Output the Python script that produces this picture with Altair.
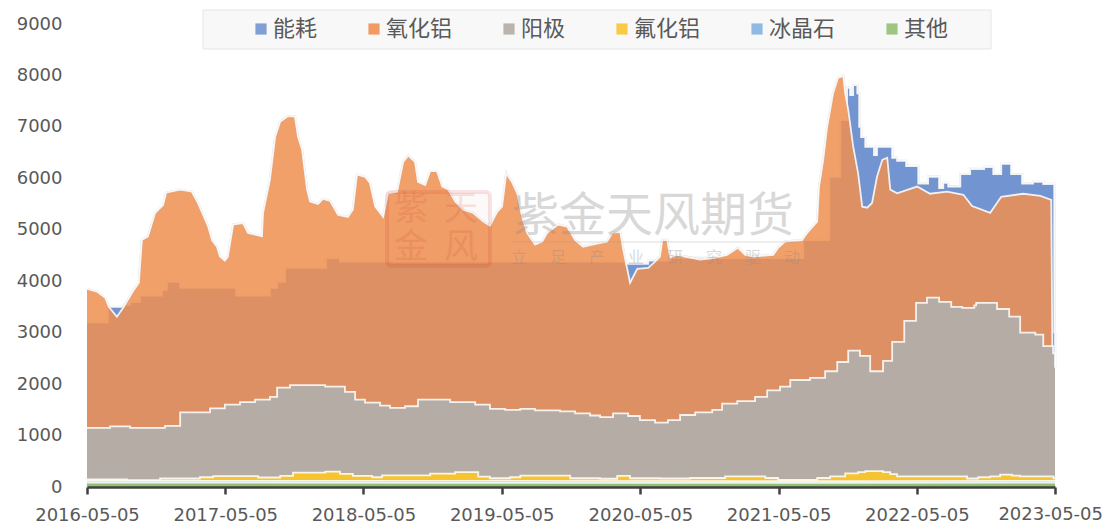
import altair as alt
import pandas as pd

START = pd.Timestamp("2016-05-05")

# Each series: days since 2016-05-05 and cumulative top value
energy_days = [0,55,98,114,140,198,211,246,394,483,502,523,631,668,1421,1482,1540,1822,1891,1960,1989,2007,2015,2023,2034,2039,2044,2055,2078,2086,2126,2139,2163,2195,2221,2250,2261,2274,2306,2332,2369,2393,2414,2440,2469,2498,2525,2554,2556]
energy_vals = [3200,3500,3540,3600,3720,3830,3990,3870,3720,3870,3990,4260,4450,4380,4340,4400,4450,4450,4800,6030,7130,7760,7620,7810,7650,7000,6800,6610,6450,6610,6400,6340,6240,5900,6030,5810,5910,5840,6080,6180,6220,6080,6280,6080,5900,5930,5890,3000,2320]

alumina_days = [0,26,48,58,79,95,121,137,145,161,180,201,209,246,277,293,320,330,343,351,364,372,386,412,425,462,465,483,497,510,531,549,557,568,581,589,610,623,642,663,689,702,713,734,747,761,782,795,819,835,848,866,874,893,906,924,938,953,972,993,1019,1046,1064,1083,1096,1107,1122,1136,1149,1162,1183,1202,1215,1244,1268,1289,1310,1347,1373,1387,1408,1416,1434,1453,1482,1500,1513,1519,1532,1540,1558,1579,1619,1653,1690,1719,1738,1759,1812,1825,1843,1888,1904,1928,1933,1944,1954,1970,1983,1997,2002,2010,2023,2036,2047,2060,2073,2086,2100,2113,2121,2139,2192,2226,2271,2314,2337,2385,2414,2472,2517,2546,2549]
alumina_vals = [3850,3800,3680,3500,3310,3480,3800,3970,4800,4870,5330,5480,5720,5780,5740,5520,5060,4800,4670,4480,4400,4480,5100,5130,4940,4870,5330,5970,6810,7100,7210,7200,6810,6550,5780,5550,5500,5600,5560,5290,5250,5390,6070,6030,5910,5450,5250,5710,5740,6320,6440,6320,5930,5870,6140,6140,5840,5790,5550,5390,5330,5160,5080,5350,5450,6100,5930,5710,5250,4940,4710,4770,4940,5100,5060,4800,4670,4730,4770,4940,4960,4610,3970,4240,4260,4380,4480,4800,4800,4460,4510,4480,4420,4450,4510,4650,4510,4480,4510,4650,4770,4800,4960,5160,5840,6360,6980,7650,7950,7990,7650,7330,6620,6100,5450,5430,5520,6030,6360,6400,5780,5710,5840,5700,5740,5680,5460,5330,5640,5700,5660,5580,2700]

anode_days = [0,61,114,206,246,325,364,404,444,483,502,536,629,681,708,734,774,800,840,874,959,1025,1064,1104,1144,1183,1249,1289,1328,1355,1389,1429,1460,1500,1534,1566,1606,1651,1677,1717,1764,1796,1830,1857,1909,1949,1981,2010,2041,2068,2102,2126,2158,2189,2218,2250,2282,2311,2343,2348,2403,2435,2464,2504,2525,2551,2556]
anode_vals = [1150,1180,1150,1190,1450,1530,1600,1650,1700,1750,1930,1980,1950,1850,1700,1640,1580,1540,1570,1700,1650,1600,1520,1500,1520,1490,1470,1430,1390,1360,1430,1380,1300,1250,1300,1400,1450,1500,1620,1670,1750,1880,1950,2080,2120,2250,2430,2650,2550,2250,2450,2820,3230,3580,3680,3600,3500,3480,3530,3580,3460,3310,3000,2960,2740,2600,2320]

fluoride_days = [0,106,193,298,333,452,510,544,629,668,702,753,779,906,972,1033,1064,1117,1144,1276,1355,1400,1434,1513,1593,1685,1791,1825,1928,1962,2002,2036,2055,2102,2121,2139,2324,2353,2385,2411,2443,2464,2552,2556]
fluoride_vals = [150,135,165,190,210,185,215,280,300,255,215,190,225,260,290,200,170,190,220,170,160,215,170,165,175,205,175,140,175,205,265,290,310,290,250,205,165,190,205,240,220,205,170,170]

cryolite_days = [0,1000,2000,2556]
cryolite_vals = [120,118,115,120]

other_days = [0,1000,2000,2556]
other_vals = [85,82,80,85]

series_names = ["能耗", "氧化铝", "阳极", "氟化铝", "冰晶石", "其他"]
series_colors = ["#7295D2", "#F08F50", "#B4ACA5", "#F7C431", "#85B2E0", "#93C072"]
series_interp = ["step-after", "linear", "step-after", "step-after", "linear", "linear"]
series_days = [energy_days, alumina_days, anode_days, fluoride_days, cryolite_days, other_days]
series_vals = [energy_vals, alumina_vals, anode_vals, fluoride_vals, cryolite_vals, other_vals]

x_ticks = [alt.DateTime(year=y, month=5, date=5) for y in range(2016, 2024)]
x_scale = alt.Scale(domain=[x_ticks[0], x_ticks[-1]], nice=False)
y_ticks = list(range(0, 10000, 1000))
FONT = "DejaVu Sans"
CJK = "Noto Sans CJK SC"
LAST_LABEL = "2023-05-05"

x_enc = alt.X("d:T", scale=x_scale, title=None,
              axis=alt.Axis(values=x_ticks, labelExpr=f"timeFormat(datum.value, '%Y-%m-%d') == '{LAST_LABEL}' ? '' : timeFormat(datum.value, '%Y-%m-%d')",
                            labelFont=FONT, labelFontSize=18,
                            labelColor="#595959", labelPadding=12, tickColor="#404040", tickWidth=2.5,
                            tickSize=7, domainColor="#404040", domainWidth=2.5, grid=False, zindex=1,
                            labelOverlap=False, labelFlush=False))
y_enc = alt.Y("v:Q", scale=alt.Scale(domain=[0, 9000], nice=False), title=None,
              axis=alt.Axis(values=y_ticks, format="d", labelFont=FONT, labelFontSize=18, labelColor="#595959",
                            labelPadding=25, ticks=False, domain=False, grid=False))
color_enc = alt.Color("s:N", scale=alt.Scale(domain=series_names, range=series_colors), sort=series_names,
                      legend=alt.Legend(orient="none", legendX=163, legendY=-6, direction="horizontal",
                                        columns=6, title=None, symbolType="square", symbolSize=125,
                                        symbolStrokeWidth=0, labelFont=CJK, labelFontSize=22,
                                        labelColor="#595959", columnPadding=45, labelOffset=1,
                                        padding=0, symbolOpacity=0.9))

layers = []
# legend box behind everything
layers.append(alt.Chart(pd.DataFrame({"k": [0]})).mark_rect(fill="#F8F8F8", stroke="#E6E6E6", strokeWidth=1).encode(
    x=alt.value(116), x2=alt.value(904), y=alt.value(-14), y2=alt.value(25)))

for name, color, interp, days, vals in zip(series_names, series_colors, series_interp, series_days, series_vals):
    df = pd.DataFrame({"d": [(START + pd.Timedelta(days=int(t))).strftime("%Y-%m-%dT00:00:00") for t in days],
                       "v": vals, "s": name})
    opacity = 0.85 if name == "氧化铝" else 1
    base = alt.Chart(df)
    layers.append(base.mark_area(interpolate=interp, opacity=opacity).encode(x=x_enc, y=y_enc, color=color_enc))
    if name in ("能耗", "氧化铝"):
        layers.append(base.mark_line(interpolate=interp, color="#9A9A9A", strokeWidth=2.4, opacity=0.3).encode(x=x_enc, y=y_enc))
    layers.append(base.mark_line(interpolate=interp, color="white", strokeWidth=1.8, opacity=0.85).encode(x=x_enc, y=y_enc))

# watermark
dummy = alt.Chart(pd.DataFrame({"k": [0]}))
layers.append(dummy.mark_rect(fill="#C8312B", fillOpacity=0.03, stroke="#C8312B", strokeOpacity=0.13,
                              strokeWidth=4, cornerRadius=4).encode(
    x=alt.value(300), x2=alt.value(403), y=alt.value(168), y2=alt.value(242)))
for ch, px, py in [("紫", 324, 186), ("天", 374, 186), ("金", 324, 224), ("风", 374, 224)]:
    layers.append(dummy.mark_text(text=ch, font=CJK, fontSize=34, color="#C8312B",
                                  opacity=0.12, align="center", baseline="middle").encode(
        x=alt.value(px), y=alt.value(py)))
layers.append(dummy.mark_text(text="紫金天风期货", font=CJK, fontSize=47, color="#8C8C8C", opacity=0.33,
                              align="left", baseline="middle").encode(x=alt.value(425), y=alt.value(193)))
layers.append(dummy.mark_rule(color="#8C8C8C", opacity=0.3, strokeWidth=1).encode(
    x=alt.value(425), x2=alt.value(710), y=alt.value(218)))
for i, ch in enumerate("立足产业研究驱动"):
    layers.append(dummy.mark_text(text=ch, font=CJK, fontSize=16, color="#8C8C8C", opacity=0.33,
                                  align="center", baseline="middle").encode(
        x=alt.value(432 + i * 39), y=alt.value(234)))
# last date label, nudged so that it stays inside the page
layers.append(dummy.mark_text(text=LAST_LABEL, font=FONT, fontSize=18, color="#595959",
                              align="right", baseline="top").encode(x=alt.value(1016), y=alt.value(482)))

chart = alt.layer(*layers).properties(
    width=968, height=463, autosize="none",
    padding={"left": 79, "top": 16, "right": 49, "bottom": 37},
    background="white",
).configure_view(stroke=None)

chart.save("out.html", embed_options={"renderer": "svg", "actions": False})
